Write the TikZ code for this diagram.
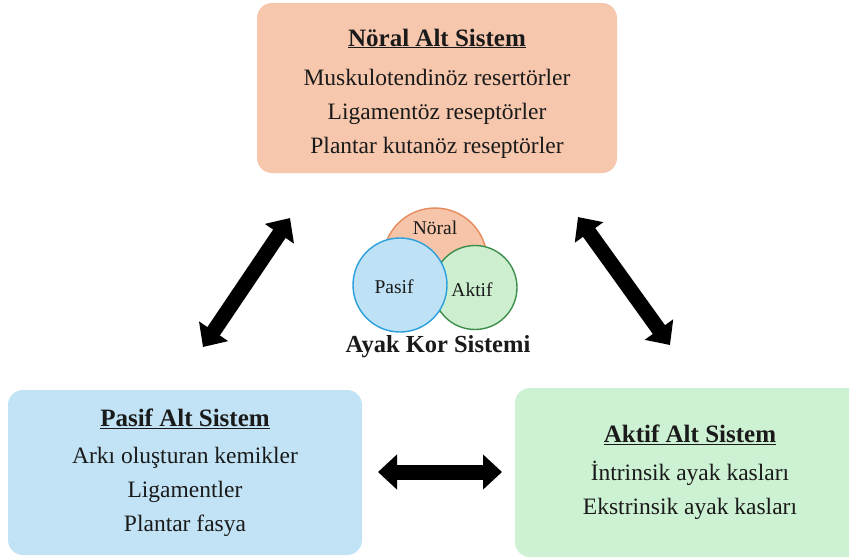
\documentclass[tikz,border=0pt]{standalone}
\usepackage{fontspec}
\setmainfont{Liberation Serif}
\usetikzlibrary{arrows.meta}
\definecolor{noralbox}{HTML}{F6C7AD}
\definecolor{pasifbox}{HTML}{C2E3F5}
\definecolor{aktifbox}{HTML}{CDF1D3}
\definecolor{noralfill}{HTML}{F6C4A8}
\definecolor{noraldraw}{HTML}{E58A5C}
\definecolor{pasiffill}{HTML}{BEE1F5}
\definecolor{pasifdraw}{HTML}{2A9FDC}
\definecolor{aktiffill}{HTML}{CDEFD0}
\definecolor{aktifdraw}{HTML}{3E8E4B}
\definecolor{txt}{HTML}{1A1A1A}
\begin{document}
\begin{tikzpicture}[x=1pt,y=-1pt,
  box/.style={rounded corners=15pt, inner sep=0pt, align=center, text=txt,
    font=\fontsize{23.5}{34}\selectfont},
  venn/.style={circle, inner sep=0pt, line width=1.4pt},
  vlabel/.style={font=\fontsize{19.5}{22}\selectfont, text=txt, inner sep=0pt},
  bigarrow/.style={line width=15pt,
    {Triangle[width=34pt,length=19pt]}-{Triangle[width=34pt,length=19pt]}}]
\useasboundingbox (0,0) rectangle (849,558);
\clip (0,0) rectangle (849,558);
\fill[white] (0,0) rectangle (849,558);

% boxes
\node[box, fill=noralbox, minimum width=360pt, minimum height=170pt] (noral) at (437,88)
  {\rule{0pt}{28pt}{\fontsize{25}{30}\selectfont\bfseries\underline{Nöral Alt Sistem}}\\[5pt]
   Muskulotendinöz resertörler\\ Ligamentöz reseptörler\\ Plantar kutanöz reseptörler};
\node[box, fill=pasifbox, minimum width=354pt, minimum height=165pt] (pasif) at (185,472.5)
  {{\fontsize{25}{30}\selectfont\bfseries\underline{Pasif Alt Sistem}}\\[3pt]
   Arkı oluşturan kemikler\\ Ligamentler\\ Plantar fasya};
\node[box, fill=aktifbox, minimum width=350pt, minimum height=169pt] (aktif) at (690,472.5)
  {{\fontsize{25}{30}\selectfont\bfseries\underline{Aktif Alt Sistem}}\\[4pt]
   İntrinsik ayak kasları\\ Ekstrinsik ayak kasları};

% venn
\node[venn, fill=noralfill, draw=noraldraw, minimum size=104pt] (cn) at (435,260) {};
\node[venn, fill=aktiffill, draw=aktifdraw, minimum size=84pt] (ca) at (475,287.5) {};
\node[venn, fill=pasiffill, draw=pasifdraw, minimum size=94pt] (cp) at (400,285) {};
\node[vlabel] (ln) at (435,228) {Nöral};
\node[vlabel] (lp) at (394,287) {Pasif};
\node[vlabel] (la) at (472,290) {Aktif};
\node[anchor=base, inner sep=0pt, text=txt, font=\fontsize{24.5}{28}\selectfont\bfseries] (core) at (438,352) {Ayak Kor Sistemi};

% arrows
\coordinate (l1) at (290,218);
\coordinate (l2) at (203,347);
\coordinate (r1) at (578,217);
\coordinate (r2) at (670,345);
\coordinate (h1) at (378,472);
\coordinate (h2) at (502,472);
\draw[bigarrow] (l1) -- (l2);
\draw[bigarrow] (r1) -- (r2);
\draw[bigarrow] (h1) -- (h2);
\end{tikzpicture}
\end{document}
